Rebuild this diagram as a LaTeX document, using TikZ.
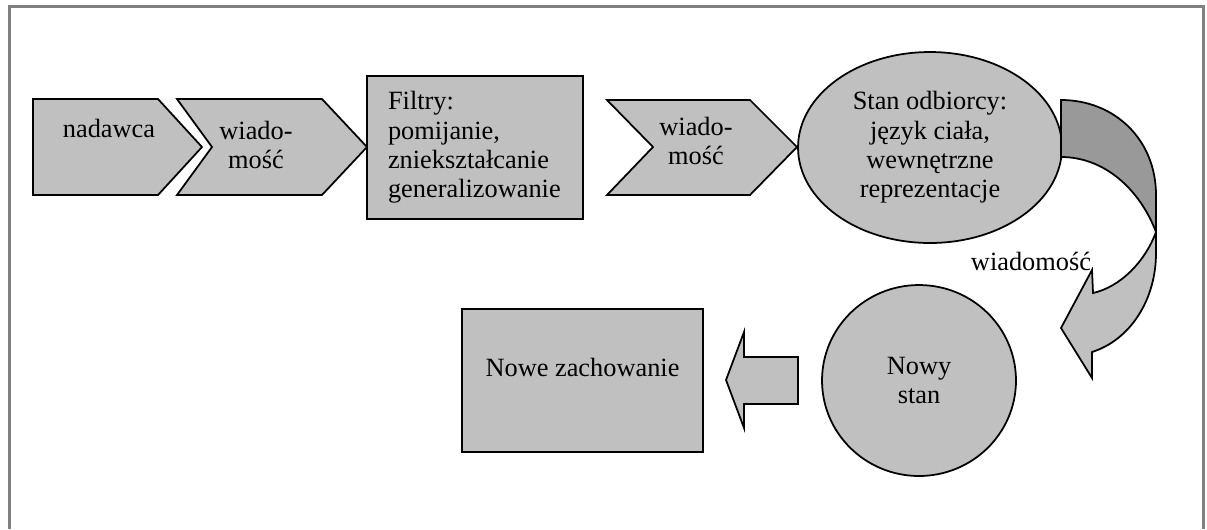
\documentclass[tikz,border=0pt]{standalone}
\usepackage{fontspec}
\setmainfont{Liberation Serif}
\usetikzlibrary{shapes.geometric}
\definecolor{silver}{RGB}{192,192,192}
\definecolor{darksilver}{RGB}{153,153,153}
\definecolor{framegray}{RGB}{128,128,128}
\tikzset{
  blk/.style={draw=black,fill=silver,line width=1pt},
  box/.style={blk,rectangle,inner sep=0pt},
  oval/.style={blk,ellipse,inner sep=0pt,align=center,font=\fontsize{15}{16.7}\selectfont},
  txt/.style={font=\fontsize{15}{16.7}\selectfont,align=center,inner sep=0pt},
}

\begin{document}
\begin{tikzpicture}[x=0.02cm,y=-0.02cm]
  \useasboundingbox (0,0) rectangle (1207,529);
  \draw[framegray,line width=1.7pt] (9.5,529) -- (9.5,6) -- (1203.5,6) -- (1203.5,529);
  % top row
  \draw[blk] (33,99) -- (158,99) -- (202,147) -- (158,195) -- (33,195) -- cycle;
  \node[txt] (nadawca) at (109,128) {nadawca};
  \draw[blk] (177,99) -- (322,99) -- (367,147) -- (322,195) -- (177,195) -- (212,147) -- cycle;
  \node[txt] (wiad1) at (256,145) {wiado-\\mość};
  \node[box,minimum width=4.32cm,minimum height=2.86cm,text width=3.48cm,
    inner xsep=0.42cm,align=left,font=\fontsize{15}{16.7}\selectfont]
    (filtry) at (475,147.5) {Filtry:\\pomijanie,\\zniekształcanie\\generalizowanie};
  \draw[blk] (607,100) -- (750,100) -- (797,147) -- (750,195) -- (607,195) -- (653,147) -- cycle;
  \node[txt] (wiad2) at (696,141) {wiado-\\mość};
  \node[oval,minimum width=5.28cm,minimum height=3.82cm] (odbiorca) at (930,147.5)
    {Stan odbiorcy:\\język ciała,\\wewnętrzne\\reprezentacje};
  % curved arrow
  \draw[blk,fill=darksilver] (1061,100) .. controls (1115,100) and (1156,140) .. (1156,195)
    -- (1156,232) .. controls (1140,190) and (1105,157) .. (1061,157) -- cycle;
  \draw[blk] (1156,232) -- (1156,253) .. controls (1156,300) and (1130,340) .. (1092,352)
    -- (1092,378) -- (1061,328) -- (1092,270) -- (1093,293)
    .. controls (1120,287) and (1145,262) .. (1156,232) -- cycle;
  \node[txt,anchor=base] (wiad3) at (1031,270) {wiadomość};
  % bottom row
  \node[oval,minimum width=3.88cm,minimum height=3.82cm] (nowystan) at (919,380.5) {Nowy\\stan};
  \draw[blk] (798,357) -- (744,357) -- (744,332) -- (726,380) -- (744,428) -- (744,404)
    -- (798,404) -- cycle;
  \node[box,minimum width=4.82cm,minimum height=2.86cm] (nowe) at (582.5,380.5) {};
  \node[txt] (nowetxt) at ([yshift=0.26cm]nowe.center) {Nowe zachowanie};
\end{tikzpicture}
\end{document}
